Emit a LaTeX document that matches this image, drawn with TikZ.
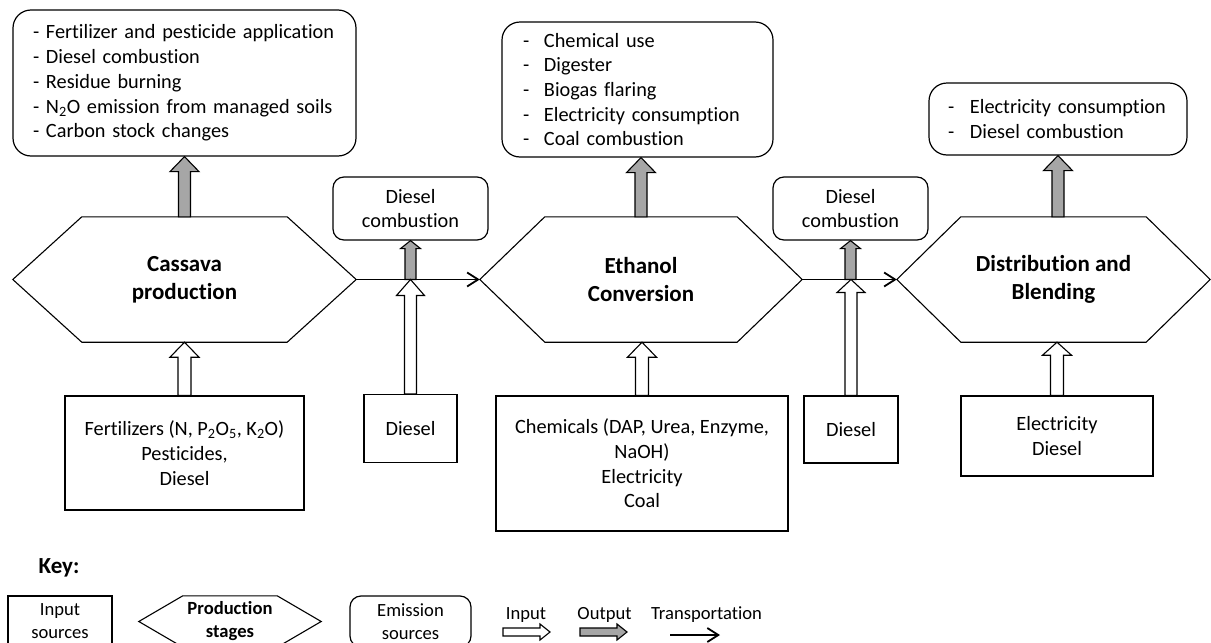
\documentclass[tikz,border=0pt]{standalone}
\usepackage{fontspec}
\setmainfont{Carlito}[Ligatures=NoCommon]
\usetikzlibrary{calc,arrows.meta}

\definecolor{outfill}{RGB}{166,166,166}

\tikzset{
  every node/.style={font=\fontsize{20.3}{24.7}\selectfont, inner sep=0pt},
  emis/.style={draw, line width=1.2pt, rounded corners=18pt},
  emissmall/.style={draw, line width=1.2pt, rounded corners=11pt, align=center},
  srcbox/.style={draw, line width=1.2pt, align=center},
  stage/.style={align=center, font=\fontsize{23}{28}\selectfont\bfseries},
  keytext/.style={align=center, font=\fontsize{18.6}{23}\selectfont},
  transport/.style={line width=1.8pt, -{Straight Barb[length=11pt,width=14pt,line width=1.8pt]}},
  blockline/.style={line width=1.1pt, line join=miter},
}

% outline of an elongated hexagon around a node: #1 node, #2 slant
\newcommand\hexframe[2]{%
  \draw[blockline] (#1.west) -- ($(#1.north west)+(#2pt,0pt)$) -- ($(#1.north east)+(-#2pt,0pt)$)
    -- (#1.east) -- ($(#1.south east)+(-#2pt,0pt)$) -- ($(#1.south west)+(#2pt,0pt)$) -- cycle;}

% vertical block arrow: #1 fill, #2 half shaft, #3 half head, #4 head length, #5 tail, #6 tip
\newcommand\upblock[6]{%
  \draw[blockline, fill=#1] let \p1=#5, \p2=#6 in
    (\x2-#2pt,\y1) -- (\x2-#2pt,\y2-#4pt) -- (\x2-#3pt,\y2-#4pt) -- (\x2,\y2)
    -- (\x2+#3pt,\y2-#4pt) -- (\x2+#2pt,\y2-#4pt) -- (\x2+#2pt,\y1) -- cycle;}

% horizontal block arrow, same arguments
\newcommand\rightblock[6]{%
  \draw[blockline, fill=#1] let \p1=#5, \p2=#6 in
    (\x1,\y2+#2pt) -- (\x2-#4pt,\y2+#2pt) -- (\x2-#4pt,\y2+#3pt) -- (\x2,\y2)
    -- (\x2-#4pt,\y2-#3pt) -- (\x2-#4pt,\y2-#2pt) -- (\x1,\y2-#2pt) -- cycle;}

\begin{document}
\begin{tikzpicture}[x=1pt, y=-1pt]
\useasboundingbox (0,0) rectangle (1211,643);
\clip (0,0) rectangle (1211,643);

% production stages
\node[stage, minimum width=343pt, minimum height=125pt] (cas) at (184.5,279.5) {Cassava\\production};
\node[stage, minimum width=322pt, minimum height=125pt] (eth) at (641,279.5) {Ethanol\\Conversion};
\node[stage, minimum width=313pt, minimum height=125pt] (dis) at (1053.5,279.5) {Distribution and\\Blending};
\hexframe{cas}{69}
\hexframe{eth}{65}
\hexframe{dis}{64}

% emission sources
\node[emis, minimum width=343pt, minimum height=146pt, inner xsep=20pt, text width=303pt, align=left] (ecas) at (184.5,83)
  {- Fertilizer and pesticide application\\
   - Diesel combustion\\
   - Residue burning\\
   - N\textsubscript{2}O emission from managed soils\\
   - Carbon stock changes};
\node[emis, minimum width=271pt, minimum height=135pt, inner xsep=21pt, text width=229pt, align=left] (eeth) at (637.5,89.5)
  {\makebox[21pt][l]{-}Chemical use\\
   \makebox[21pt][l]{-}Digester\\
   \makebox[21pt][l]{-}Biogas flaring\\
   \makebox[21pt][l]{-}Electricity consumption\\
   \makebox[21pt][l]{-}Coal combustion};
\node[emis, minimum width=258pt, minimum height=72pt, inner xsep=19pt, text width=220pt, align=left] (edis) at (1058,119)
  {\makebox[22pt][l]{-}Electricity consumption\\
   \makebox[22pt][l]{-}Diesel combustion};
\node[emissmall, minimum width=155pt, minimum height=63pt] (dc1) at (410.5,208.5) {Diesel\\combustion};
\node[emissmall, minimum width=155pt, minimum height=63pt] (dc2) at (850.5,208.5) {Diesel\\combustion};

% input sources
\node[srcbox, minimum width=239pt, minimum height=114pt] (fert) at (184.5,453)
  {Fertilizers (N, P\textsubscript{2}O\textsubscript{5}, K\textsubscript{2}O)\\Pesticides,\\Diesel};
\node[srcbox, minimum width=93pt, minimum height=68pt] (ds1) at (410.5,428.5) {Diesel};
\node[srcbox, minimum width=292pt, minimum height=135pt] (chem) at (642,463.5)
  {Chemicals (DAP, Urea, Enzyme,\\NaOH)\\Electricity\\Coal};
\node[srcbox, minimum width=94pt, minimum height=67pt] (ds2) at (851,429.5) {Diesel};
\node[srcbox, minimum width=192pt, minimum height=80pt] (elec) at (1057,436) {Electricity\\Diesel};

% transportation
\draw[transport] (cas.east) -- (eth.west);
\draw[transport] (eth.east) -- (dis.west);

% outputs
\upblock{outfill}{6}{14.5}{15}{(cas.north)}{(cas.north |- ecas.south)}
\upblock{outfill}{6}{14.5}{15}{(eth.north)}{(eth.north |- eeth.south)}
\upblock{outfill}{6}{14.5}{15}{(dis.north -| edis.south)}{(edis.south)}
\upblock{outfill}{5.5}{10}{8}{(dc1.south |- cas.east)}{(dc1.south)}
\upblock{outfill}{5.5}{10}{8}{(dc2.south |- eth.east)}{(dc2.south)}

% inputs
\upblock{white}{6.5}{14.5}{15}{(fert.north)}{(fert.north |- cas.south)}
\upblock{white}{6.5}{14.5}{15}{(chem.north)}{(chem.north |- eth.south)}
\upblock{white}{6.5}{14.5}{13}{(elec.north)}{(elec.north |- dis.south)}
\upblock{white}{6}{14}{16}{(ds1.north)}{(ds1.north |- cas.east)}
\upblock{white}{6}{14}{13}{(ds2.north)}{(ds2.north |- eth.east)}

% key
\node[font=\fontsize{23}{28}\selectfont\bfseries] (keyhd) at (59,568) {Key:};
\node[srcbox, keytext, minimum width=104pt, minimum height=51pt] (kin) at (60,621.5) {Input\\sources};
\node[keytext, font=\fontsize{18.6}{23}\selectfont\bfseries, minimum width=182pt, minimum height=51pt] (kst) at (230,621.5) {Production\\stages};
\hexframe{kst}{44}
\node[emissmall, keytext, minimum width=121pt, minimum height=51pt] (kem) at (410.5,621.5) {Emission\\sources};

\node[keytext] (lin) at (526,615) {Input};
\node[keytext] (lout) at (604.5,615) {Output};
\node[keytext] (ltr) at (706.5,615) {Transportation};
\coordinate (ain0) at (503,632);  \coordinate (ain1) at (550,632);
\coordinate (aout0) at (580,632); \coordinate (aout1) at (627,632);
\coordinate (atr0) at (670,635);  \coordinate (atr1) at (720,635);
\rightblock{white}{4}{8}{10}{(ain0)}{(ain1)}
\rightblock{outfill}{4}{8}{10}{(aout0)}{(aout1)}
\draw[transport] (atr0) -- (atr1);
\end{tikzpicture}
\end{document}
